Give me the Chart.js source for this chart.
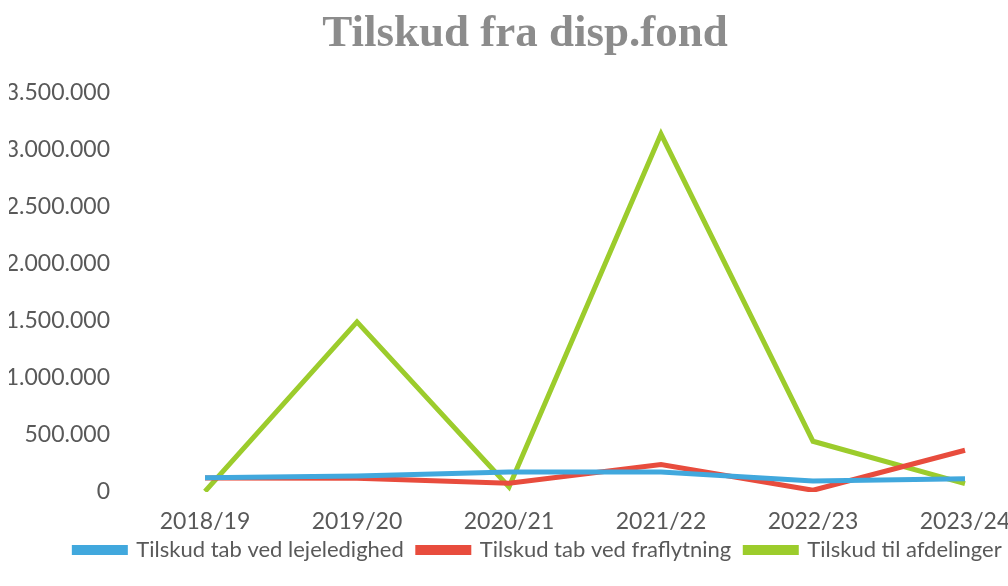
<!DOCTYPE html>
<html lang="da">
<head>
    <meta charset="UTF-8" />
    <title>Tilskud fra disp.fond</title>
    <script src="https://cdn.jsdelivr.net/npm/chart.js"></script>
    <style>
        html, body {
            margin: 0;
            padding: 0;
            background: #fff;
            overflow: hidden;
        }
        /* the plot runs a little past the right edge, like the cropped original */
        .wrap {
            width: 1046px;
            height: 586px;
        }
    </style>
</head>
<body>
    <div class="wrap">
        <canvas id="dispChart"></canvas>
    </div>

    <script>
        // data
        var years = ['2018/19', '2019/20', '2020/21', '2021/22', '2022/23', '2023/24'];
        var lejeledighed = [126000, 141000, 176000, 176000, 97000, 117000];
        var fraflytning = [123000, 120000, 76000, 240000, 15000, 366000];
        var afdelinger = [5000, 1492000, 44000, 3140000, 445000, 73000];
        var yTicks = [0, 500000, 1000000, 1500000, 2000000, 2500000, 3000000, 3500000];

        function fmt(v) {
            return String(v).replace(/\B(?=(\d{3})+(?!\d))/g, '.');
        }

        // nudge the legend right and up, the original isn't centred
        var legendShift = {
            id: 'legendShift',
            afterLayout: function (chart) {
                var lg = chart.legend;
                lg.left += 13;
                lg.right += 13;
                lg.top -= 9;
                lg.bottom -= 9;
            }
        };

        var ctx = document.getElementById('dispChart').getContext('2d');

        var myChart = new Chart(ctx, {
            type: 'line',
            data: {
                labels: years,
                datasets: [{
                    label: 'Tilskud tab ved lejeledighed',
                    data: lejeledighed,
                    borderColor: '#41a8dd',
                    backgroundColor: '#41a8dd',
                    borderWidth: 5,
                    pointRadius: 0
                }, {
                    label: 'Tilskud tab ved fraflytning',
                    data: fraflytning,
                    borderColor: '#e84c3d',
                    backgroundColor: '#e84c3d',
                    borderWidth: 5,
                    pointRadius: 0
                }, {
                    label: 'Tilskud til afdelinger',
                    data: afdelinger,
                    borderColor: '#9ccc2c',
                    backgroundColor: '#9ccc2c',
                    borderWidth: 5,
                    pointRadius: 0
                }]
            },
            options: {
                responsive: true,
                maintainAspectRatio: false,
                animation: false,
                layout: {
                    padding: { left: 9, right: 5, top: 0, bottom: 6 }
                },
                scales: {
                    x: {
                        offset: true,
                        grid: { display: false, drawTicks: false },
                        border: { display: false },
                        afterFit: function (axis) { axis.height = 42; },
                        ticks: {
                            padding: 16,
                            color: '#595959',
                            font: { family: 'Lato', size: 23 },
                            maxRotation: 0
                        }
                    },
                    y: {
                        min: 0,
                        max: 3500000,
                        afterBuildTicks: function (axis) {
                            axis.ticks = yTicks.map(function (v) { return { value: v }; });
                        },
                        afterFit: function (axis) { axis.width = 120; },
                        grid: { display: false, drawTicks: false },
                        border: { display: false },
                        ticks: {
                            padding: 19,
                            color: '#595959',
                            font: { family: 'Lato', size: 23 },
                            callback: function (v) { return fmt(v); }
                        }
                    }
                },
                plugins: {
                    title: {
                        display: true,
                        text: 'Tilskud fra disp.fond',
                        color: '#8c8c8c',
                        font: { family: 'Liberation Serif', size: 45, weight: 'bold' },
                        padding: { top: 7, bottom: 32 }
                    },
                    legend: {
                        position: 'bottom',
                        labels: {
                            boxWidth: 51,
                            boxHeight: 5,
                            padding: 14,
                            color: '#595959',
                            font: { family: 'Lato', size: 22 }
                        }
                    },
                    tooltip: { enabled: false }
                }
            },
            plugins: [legendShift]
        });
    </script>
</body>
</html>
